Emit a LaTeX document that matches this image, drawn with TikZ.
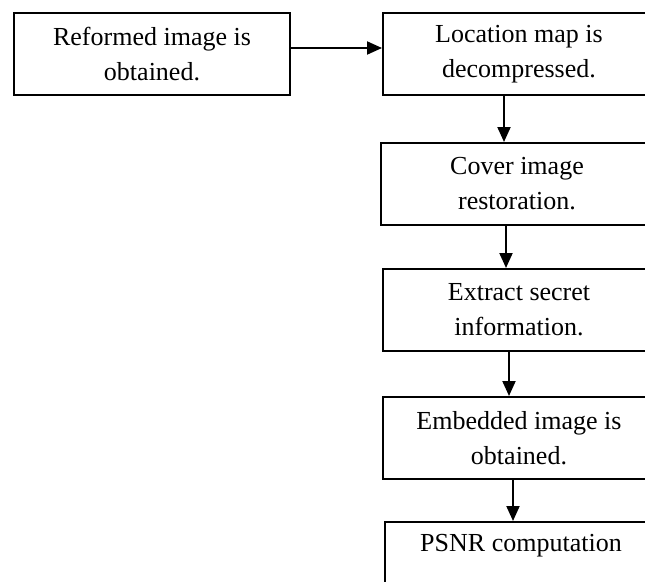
\documentclass[tikz,border=0pt]{standalone}
\usepackage{fontspec}
\setmainfont{Liberation Serif}
\usepackage{tikz}
\usetikzlibrary{arrows.meta}

\begin{document}
\begin{tikzpicture}[x=1pt,y=1pt,
    stepbox/.style={draw,line width=2pt,anchor=north west,minimum width=272pt,minimum height=82pt,inner sep=0pt,align=center,font=\fontsize{26}{35}\selectfont},
    flow/.style={line width=2pt,-{Triangle[length=15pt,width=13pt]}}]
  \useasboundingbox (0,0) rectangle (645,-581);
  \clip (0,0) rectangle (645,-581);
  \fill[white] (0,0) rectangle (645,-581);
  \node[stepbox,minimum width=276pt] (reformed) at (13,-12) {Reformed image is\\obtained.};
  \node[stepbox] (locmap) at (382,-12) {Location map is\\decompressed.};
  \node[stepbox] (cover) at (380,-142) {Cover image\\restoration.};
  \node[stepbox] (extract) at (382,-268) {Extract secret\\information.};
  \node[stepbox] (embedded) at (382,-396) {Embedded image is\\obtained.};
  \node[stepbox] (psnr) at (384,-521) {PSNR computation\\\vphantom{g}};
  \draw[flow] ([yshift=6]reformed.east) -- ([yshift=6]locmap.west);
  \draw[flow] ([xshift=-15]locmap.south) -- ([xshift=-13]cover.north);
  \draw[flow] ([xshift=-11]cover.south) -- ([xshift=-13]extract.north);
  \draw[flow] ([xshift=-10]extract.south) -- ([xshift=-10]embedded.north);
  \draw[flow] ([xshift=-6]embedded.south) -- ([xshift=-8]psnr.north);
\end{tikzpicture}
\end{document}
